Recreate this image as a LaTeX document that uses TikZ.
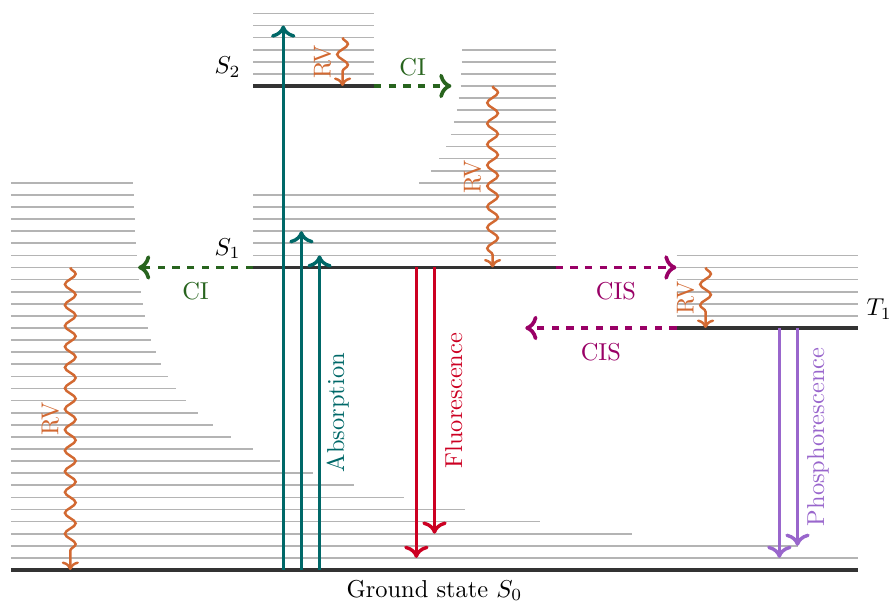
\documentclass[tikz,border=0pt]{standalone}
\usetikzlibrary{arrows.meta,decorations.pathmorphing}

\definecolor{levelcol}{RGB}{51,51,51}
\definecolor{laddercol}{RGB}{180,180,180}
\definecolor{abscol}{RGB}{0,104,104}
\definecolor{flucol}{RGB}{204,0,34}
\definecolor{phoscol}{RGB}{153,102,204}
\definecolor{cicol}{RGB}{40,100,30}
\definecolor{ciscol}{RGB}{153,0,102}
\definecolor{rvcol}{RGB}{210,105,50}

\def\unit{4.949pt}

\begin{document}
\begin{tikzpicture}[x=\unit,y=\unit,
    level/.style={draw=levelcol,line width=1.6pt},
    ladder/.style={draw=laddercol,line width=0.7pt},
    radiative/.style={-{To[length=5pt,width=10pt]},line width=1.4pt},
    nonrad/.style={-{To[length=5pt,width=10pt]},dashed,line width=1.5pt},
    relax/.style={-{To[length=3.5pt,width=7pt]},draw=rvcol,line width=1pt,decorate,
      decoration={snake,amplitude=2.2pt,segment length=8.5pt,post length=4pt}},
    vtext/.style={rotate=90}
    ]
    \useasboundingbox (-0.909,-2.562) rectangle (72.562,47.107);

    % vibrational ladder of S0
    \draw[ladder] (0,1) -- (70,1);
    \draw[ladder] (0,2) -- (65,2);
    \foreach \n in {3,...,32} {
      \draw[ladder] (0,\n) -- ({10+75.9*exp(-0.2027*\n)},\n);
    }
    % ladder of S1
    \foreach \n in {26,...,31} {
      \draw[ladder] (20,\n) -- (45,\n);
    }
    \foreach \n / \l in {32/33.7,33/34.7,34/35.4,35/35.95,36/36.35,37/36.6,
      38/36.85,39/37,40/37.15,41/37.2,42/37.25,43/37.3} {
      \draw[ladder] (\l,\n) -- (45,\n);
    }
    % ladders of S2 and T1
    \foreach \n in {1,...,6} {
      \draw[ladder] (20,40+\n) -- (30,40+\n);
      \draw[ladder] (55,20+\n) -- (70,20+\n);
    }

    % electronic states
    \coordinate (S0w) at (0,0);   \coordinate (S0e) at (70,0);
    \coordinate (S1w) at (20,25); \coordinate (S1e) at (45,25);
    \coordinate (S2w) at (20,40); \coordinate (S2e) at (30,40);
    \coordinate (T1w) at (55,20); \coordinate (T1e) at (70,20);
    \draw[level] (S0w) -- (S0e) node[midway,below] (s0) {Ground state $S_0$};
    \draw[level] (S1w) -- (S1e);
    \draw[level] (S2w) -- (S2e);
    \draw[level] (T1w) -- (T1e);
    \node[above left,xshift=-1.5pt] (s1) at (S1w) {$S_1$};
    \node[above left,xshift=-1.5pt] (s2) at (S2w) {$S_2$};
    \node[above right] (t1) at (T1e) {$T_1$};

    % absorption
    \foreach \x / \y in {22.5/45,24/28,25.5/26} {
      \draw[radiative,abscol] (\x,0) -- (\x,\y);
    }
    \node[vtext,abscol] (abs) at (27,13) {Absorption};
    % fluorescence
    \foreach \x / \y in {33.5/1,35/3} {
      \draw[radiative,flucol] (\x,25) -- (\x,\y);
    }
    \node[vtext,flucol] (flu) at (36.6,14) {Fluorescence};
    % phosphorescence
    \foreach \x / \y in {63.5/1,65/2} {
      \draw[radiative,phoscol] (\x,20) -- (\x,\y);
    }
    \node[vtext,phoscol] (phos) at (66.7,11) {Phosphorescence};

    % internal conversion / intersystem crossing
    \coordinate (ci2) at (36.4,40);
    \coordinate (ci1) at (10.5,25);
    \coordinate (cis1) at (55,25);
    \coordinate (cis2) at (42.5,20);
    \draw[nonrad,cicol] (S2e) -- (ci2) node[midway,above] (cilab2) {CI};
    \draw[nonrad,cicol] (S1w) -- (ci1) node[midway,below=2pt] (cilab1) {CI};
    \draw[nonrad,ciscol] (S1e) -- (cis1) node[midway,below=2pt] (cislab1) {CIS};
    \draw[nonrad,ciscol] (T1w) -- (cis2) node[midway,below=2pt] (cislab2) {CIS};

    % vibrational relaxation
    \foreach \x / \a / \b / \s in {27.4/44/40/s2,39.8/40/25/s1,4.9/25/0/s0,57.4/25/20/t1} {
      \draw[relax] (\x,\a) -- (\x,\b);
      \node[vtext,rvcol] (rv\s) at ({\x-1.65},{(\a+\b)/2}) {RV};
    }
\end{tikzpicture}
\end{document}
